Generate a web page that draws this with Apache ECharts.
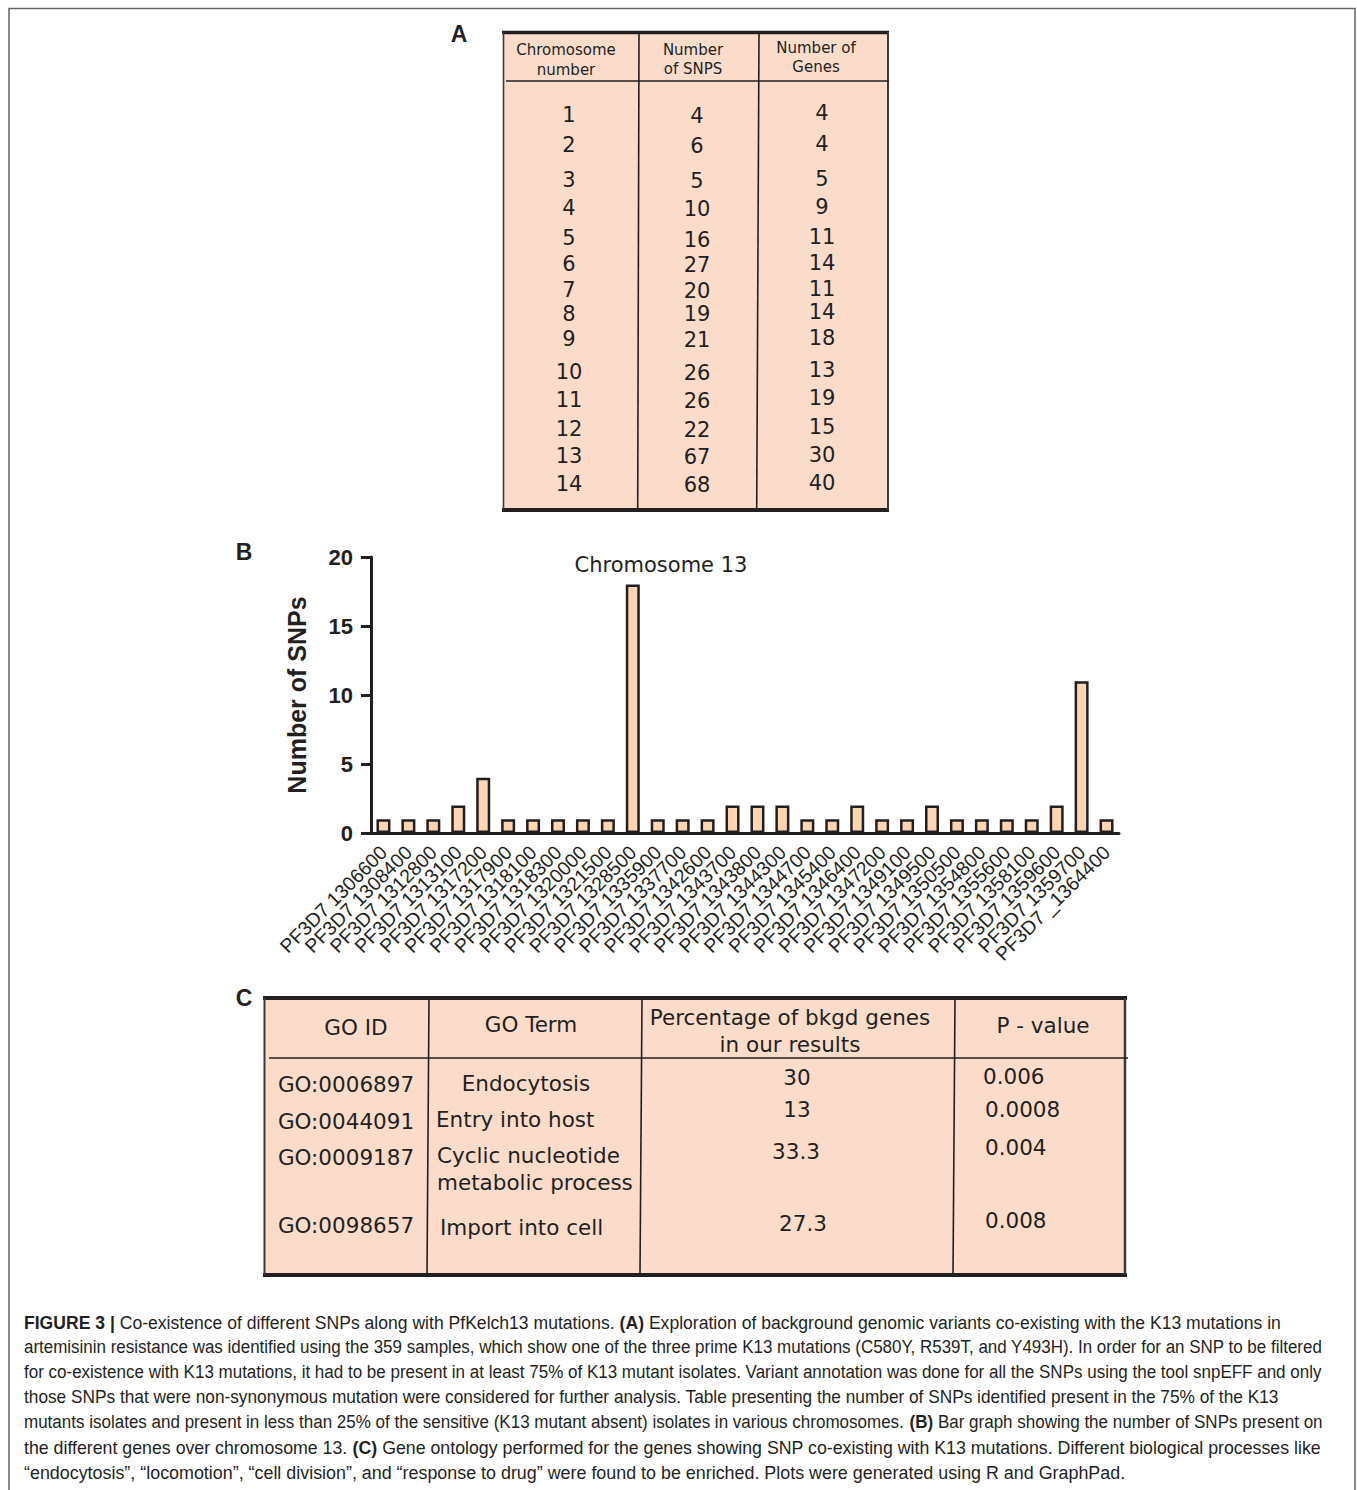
<!DOCTYPE html>
<html>
<head>
<meta charset="utf-8">
<script src="https://cdn.jsdelivr.net/npm/echarts@6/dist/echarts.min.js"></script>
<style>
  html, body { margin: 0; padding: 0; background: #fff; }
  #fig { width: 1357px; height: 1490px; }
</style>
</head>
<body>
<div id="fig"></div>
<script>
// ---- Panel A: SNPs and genes per chromosome ----
const chromosomes = ['1', '2', '3', '4', '5', '6', '7', '8', '9', '10', '11', '12', '13', '14'];
const snpsPerChromosome = [4, 6, 5, 10, 16, 27, 20, 19, 21, 26, 26, 22, 67, 68];
const genesPerChromosome = [4, 4, 5, 9, 11, 14, 11, 14, 18, 13, 19, 15, 30, 40];
const tableAHeaders = [['Chromosome', 'number'], ['Number', 'of SNPS'], ['Number of', 'Genes']];

// ---- Panel B: SNPs per gene on chromosome 13 ----
const chr13Genes = [
  'PF3D7 1306600', 'PF3D7 1308400', 'PF3D7 1312800', 'PF3D7 1313100', 'PF3D7 1317200',
  'PF3D7 1317900', 'PF3D7 1318100', 'PF3D7 1318300', 'PF3D7 1320000', 'PF3D7 1321500',
  'PF3D7 1328500', 'PF3D7 1335900', 'PF3D7 1337700', 'PF3D7 1342600', 'PF3D7 1343700',
  'PF3D7 1343800', 'PF3D7 1344300', 'PF3D7 1344700', 'PF3D7 1345400', 'PF3D7 1346400',
  'PF3D7 1347200', 'PF3D7 1349100', 'PF3D7 1349500', 'PF3D7 1350500', 'PF3D7 1354800',
  'PF3D7 1355600', 'PF3D7 1358100', 'PF3D7 1359600', 'PF3D7 1359700', 'PF3D7 _1364400'
];
const chr13SnpCounts = [1, 1, 1, 2, 4, 1, 1, 1, 1, 1, 18, 1, 1, 1, 2, 2, 2, 1, 1, 2, 1, 1, 2, 1, 1, 1, 1, 2, 11, 1];
const chartTitle = 'Chromosome 13';
const yAxisTitle = 'Number of SNPs';

// ---- Panel C: gene ontology enrichment ----
const tableCHeaders = [['GO ID'], ['GO Term'], ['Percentage of bkgd genes', 'in our results'], ['P - value']];
const goIds = ['GO:0006897', 'GO:0044091', 'GO:0009187', 'GO:0098657'];
const goTerms = [['Endocytosis'], ['Entry into host'], ['Cyclic nucleotide', 'metabolic process'], ['Import into cell']];
const goPercent = ['30', '13', '33.3', '27.3'];
const goPValues = ['0.006', '0.0008', '0.004', '0.008'];

// ---- Caption (bold runs wrapped in **) ----
const captionLines = [
  '**FIGURE 3 |** Co-existence of different SNPs along with PfKelch13 mutations. **(A)** Exploration of background genomic variants co-existing with the K13 mutations in',
  'artemisinin resistance was identified using the 359 samples, which show one of the three prime K13 mutations (C580Y, R539T, and Y493H). In order for an SNP to be filtered',
  'for co-existence with K13 mutations, it had to be present in at least 75% of K13 mutant isolates. Variant annotation was done for all the SNPs using the tool snpEFF and only',
  'those SNPs that were non-synonymous mutation were considered for further analysis. Table presenting the number of SNPs identified present in the 75% of the K13',
  'mutants isolates and present in less than 25% of the sensitive (K13 mutant absent) isolates in various chromosomes. **(B)** Bar graph showing the number of SNPs present on',
  'the different genes over chromosome 13. **(C)** Gene ontology performed for the genes showing SNP co-existing with K13 mutations. Different biological processes like',
  '\u201cendocytosis\u201d, \u201clocomotion\u201d, \u201ccell division\u201d, and \u201cresponse to drug\u201d were found to be enriched. Plots were generated using R and GraphPad.'
];

// ---- Layout and style ----
const INK = '#231f20';
const TABLE_FILL = '#FBDCCB';
const BAR_FILL = '#FDD5B3';
const TABLE_FONT = '"DejaVu Sans", Verdana, sans-serif';
const ARIAL = '"Liberation Sans", Arial, sans-serif';

// row centres for the three columns of table A
const tableARowY = [
  [115, 145, 180, 208, 238, 264, 290, 314, 339, 372, 400, 429, 456, 484],
  [116, 146, 181, 209, 240, 265, 291, 314, 340, 373, 401, 430, 457, 485],
  [113, 144, 179, 207, 237, 263, 289, 312, 338, 370, 398, 427, 455, 483]
];
const tableAColX = [569, 697, 822];
const tableAHeadX = [566, 693, 816];
const tableAHeadY = [[50, 70], [50, 69], [48, 67]];

const captionX = 24;
const captionTop = 1322;
const captionStep = 25;
const captionRight = [1281, 1323, 1323, 1280, 1323, 1322, 1126];
const captionSize = 19;

function text(x, y, s, o) {
  o = o || {};
  return {
    type: 'text', x: x, y: y, z: 10,
    style: {
      text: s,
      fill: o.fill || INK,
      fontFamily: o.family || TABLE_FONT,
      fontSize: o.size || 20,
      fontWeight: o.weight || 'normal',
      align: o.align || 'center',
      verticalAlign: o.valign || 'middle'
    }
  };
}
function line(x1, y1, x2, y2, w, c) {
  return { type: 'line', z: 9, shape: { x1: x1, y1: y1, x2: x2, y2: y2 },
           style: { stroke: c || INK, lineWidth: w } };
}
function rect(x, y, w, h, fill) {
  return { type: 'rect', z: 8, shape: { x: x, y: y, width: w, height: h }, style: { fill: fill } };
}

const els = [];

// outer frame of the figure
els.push({ type: 'rect', z: 1, shape: { x: 9, y: 8.5, width: 1346, height: 1500 },
           style: { fill: 'none', stroke: '#666', lineWidth: 1.5 } });

// panel letters
els.push(text(459, 34, 'A', { family: ARIAL, weight: 'bold', size: 23 }));
els.push(text(244, 552, 'B', { family: ARIAL, weight: 'bold', size: 23 }));
els.push(text(244, 998, 'C', { family: ARIAL, weight: 'bold', size: 23 }));

// ---- table A ----
els.push(rect(503, 32, 385, 478, TABLE_FILL));
els.push(line(502, 32.5, 889, 32.5, 3.5));
els.push(line(502, 510, 889, 510, 4));
els.push(line(503.5, 32, 503.5, 510, 1.6, '#3a3a3a'));
els.push(line(888, 32, 888, 510, 2, '#3a3a3a'));
els.push(line(506, 81, 889, 81, 1.6));
els.push(line(639, 34, 637.7, 509, 1.6));
els.push(line(759, 34, 756.7, 509, 1.6));
tableAHeaders.forEach(function (h, c) {
  h.forEach(function (s, k) {
    els.push(text(tableAHeadX[c], tableAHeadY[c][k], s, { size: 15 }));
  });
});
const tableACols = [chromosomes, snpsPerChromosome, genesPerChromosome];
tableACols.forEach(function (col, c) {
  col.forEach(function (v, r) {
    els.push(text(tableAColX[c], tableARowY[c][r], String(v), { size: 21 }));
  });
});

// ---- chart title for panel B ----
els.push(text(661, 565, chartTitle, { size: 21 }));

// ---- table C ----
els.push(rect(264, 998, 862, 277, TABLE_FILL));
els.push(line(263, 998, 1127, 998, 4));
els.push(line(263, 1275, 1127, 1275, 4));
els.push(line(264.5, 998, 264.5, 1275, 2, '#3a3a3a'));
els.push(line(1125, 998, 1125, 1275, 2.5, '#3a3a3a'));
els.push(line(269, 1058, 1128, 1058, 1.6));
els.push(line(429, 1000, 427, 1274, 1.6));
els.push(line(642, 1000, 640, 1274, 1.6));
els.push(line(955, 1000, 953, 1274, 1.6));

const tableCHeadPos = [[356, [1027]], [531, [1024]], [790, [1017, 1044]], [1043, [1025]]];
tableCHeaders.forEach(function (h, c) {
  h.forEach(function (s, k) {
    els.push(text(tableCHeadPos[c][0], tableCHeadPos[c][1][k], s, { size: 21.5 }));
  });
});
const goIdY = [1084, 1121, 1157, 1225];
goIds.forEach(function (s, r) { els.push(text(346, goIdY[r], s, { size: 21.5 })); });
const goTermPos = [
  { x: 526, align: 'center', y: [1083] },
  { x: 436, align: 'left', y: [1119] },
  { x: 437, align: 'left', y: [1155, 1182] },
  { x: 440, align: 'left', y: [1227] }
];
goTerms.forEach(function (t, r) {
  t.forEach(function (s, k) {
    els.push(text(goTermPos[r].x, goTermPos[r].y[k], s, { size: 21.5, align: goTermPos[r].align }));
  });
});
const goPctX = [797, 797, 796, 803];
const goPctY = [1077, 1109, 1151, 1223];
goPercent.forEach(function (s, r) { els.push(text(goPctX[r], goPctY[r], s, { size: 21.5 })); });
const goPX = [983, 985, 985, 985];
const goPY = [1076, 1109, 1147, 1220];
goPValues.forEach(function (s, r) { els.push(text(goPX[r], goPY[r], s, { size: 21.5, align: 'left' })); });

// ---- caption: each line squeezed to its column width ----
const measureCtx = document.createElement('canvas').getContext('2d');
function splitRuns(s) {
  const parts = s.split('**');
  return parts.map(function (p, i) { return { t: p, bold: i % 2 === 1 }; }).filter(function (p) { return p.t.length; });
}
captionLines.forEach(function (ln, i) {
  const runs = splitRuns(ln);
  let cursor = 0;
  const kids = [];
  runs.forEach(function (r) {
    const weight = r.bold ? 'bold' : 'normal';
    measureCtx.font = weight + ' ' + captionSize + 'px "Liberation Sans"';
    const w = measureCtx.measureText(r.t).width;
    kids.push({ type: 'text', x: cursor, y: 0,
      style: { text: r.t, fill: INK, fontFamily: ARIAL, fontSize: captionSize, fontWeight: weight,
               align: 'left', verticalAlign: 'middle' } });
    cursor += w;
  });
  const scale = (captionRight[i] - captionX) / cursor;
  els.push({ type: 'group', x: captionX, y: captionTop + i * captionStep, scaleX: scale, z: 10, children: kids });
});

const chart = echarts.init(document.getElementById('fig'), null, { renderer: 'svg', width: 1357, height: 1490 });
chart.setOption({
  animation: false,
  backgroundColor: '#ffffff',
  grid: { left: 371, top: 557, width: 748, height: 276, containLabel: false },
  xAxis: {
    type: 'category',
    data: chr13Genes,
    boundaryGap: true,
    axisLine: { lineStyle: { color: INK, width: 3 } },
    axisTick: { alignWithLabel: true, length: 10, lineStyle: { color: INK, width: 3 } },
    axisLabel: { interval: 0, rotate: 45, margin: 16, verticalAlign: 'middle', hideOverlap: false,
                 fontFamily: ARIAL, fontSize: 19.5, color: INK }
  },
  yAxis: {
    type: 'value', min: 0, max: 20, interval: 5,
    name: yAxisTitle, nameLocation: 'middle', nameGap: 62, nameRotate: 90,
    nameTextStyle: { fontFamily: ARIAL, fontWeight: 'bold', fontSize: 25, color: INK },
    axisLine: { show: true, lineStyle: { color: INK, width: 3 } },
    axisTick: { show: true, length: 10, lineStyle: { color: INK, width: 3 } },
    axisLabel: { margin: 18, fontFamily: ARIAL, fontWeight: 'bold', fontSize: 22, color: INK },
    splitLine: { show: false }
  },
  series: [{
    type: 'bar',
    data: chr13SnpCounts,
    barWidth: 14,
    itemStyle: { color: BAR_FILL, borderColor: INK, borderWidth: 2.5 }
  }],
  graphic: { elements: els }
});
</script>
</body>
</html>
